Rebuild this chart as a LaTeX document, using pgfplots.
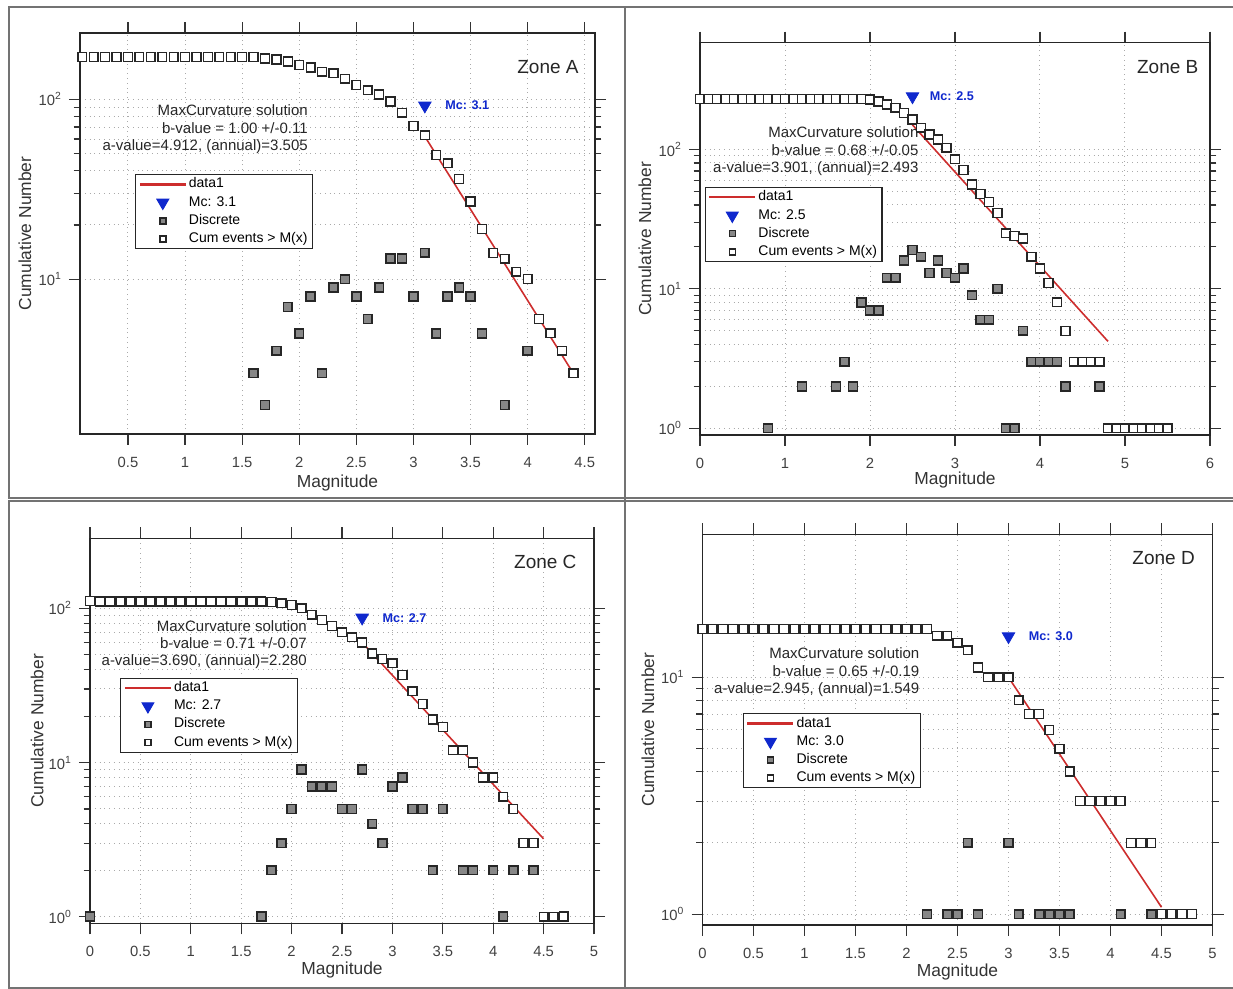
\documentclass[border=0pt]{standalone}
\usepackage{fontspec}
\setmainfont{Liberation Sans}
\usepackage{pgfplots}
\pgfplotsset{compat=1.18}
\definecolor{fitred}{RGB}{205,45,45}
\definecolor{mcblue}{RGB}{15,40,205}
\definecolor{discgray}{RGB}{135,135,135}
\definecolor{framegray}{RGB}{115,115,115}
\definecolor{gridgray}{RGB}{170,170,170}
\pgfplotsset{
 every axis/.append style={
  scale only axis,
  axis line style={line width=0.7pt, black!85},
  tick align=outside,
  major tick length=5.5pt, minor tick length=3.2pt,
  every tick/.append style={line width=0.6pt, black!80},
  grid=both,
  major grid style={dotted, gridgray, line width=0.5pt},
  minor grid style={dotted, gridgray, line width=0.5pt},
  tick label style={font=\fontsize{7.4}{8}\selectfont, text=black!75},
  xticklabel style={yshift=-2.5pt},
  label style={font=\fontsize{8.7}{10}\selectfont, text=black!80},
  legend cell align=left,
  legend style={draw=black!85, line width=0.6pt, font=\fontsize{7}{8}\selectfont,
    row sep=1pt, inner xsep=1.5pt, inner ysep=0.8pt,
    nodes={inner xsep=1pt, inner ysep=0.8pt, text height=5pt, text depth=1.5pt}},
 },
 /pgf/number format/assume math mode=true,
 legend image code/.code={\draw[mark repeat=2,mark phase=2,#1] plot coordinates {(0pt,0pt) (11.5pt,0pt) (23pt,0pt)};},
}
\tikzset{
 infotext/.style={anchor=east, inner sep=0pt, font=\fontsize{7.5}{9}\selectfont, text=black!85},
 zonetext/.style={anchor=east, inner sep=0pt, font=\fontsize{9.5}{11}\selectfont, text=black!85},
 mctext/.style={anchor=west, inner sep=0pt, font=\bfseries\fontsize{6.3}{7}\selectfont, text=mcblue},
}
\begin{document}
\begin{tikzpicture}
\useasboundingbox (0pt,0pt) rectangle (616.5pt,494.5pt);
% panel frames
\draw[framegray, line width=0.8pt] (616.5pt,491pt) -- (4.5pt,491pt) -- (4.5pt,245.5pt) -- (616.5pt,245.5pt);
\draw[framegray, line width=0.8pt] (616.5pt,244pt) -- (4.5pt,244pt) -- (4.5pt,0.5pt) -- (616.5pt,0.5pt);
\draw[framegray, line width=0.8pt] (312.5pt,491pt) -- (312.5pt,0.5pt);

% ---------------- Zone A ----------------
\begin{axis}[ymode=log, anchor=south west, at={(40pt,277.5pt)}, width=257.5pt, height=200.5pt,
  xmin=0.08, xmax=4.59, ymin=1.38, ymax=233,
  xtick={0.5,1,1.5,2,2.5,3,3.5,4,4.5},
  ytick={10,100}, yticklabels={10\textsuperscript{1},10\textsuperscript{2}},
  xlabel=Magnitude, ylabel=Cumulative Number,
  legend style={at={(0.107,0.648)}, anchor=north west},
  xlabel style={at={(axis description cs:0.5,-0.122)}, anchor=center},
  ylabel style={at={(axis description cs:-0.107,0.5)}, anchor=center}]
\addlegendimage{no markers, draw=fitred, color=fitred, line width=1.1pt} \addlegendentry{data1}
\addlegendimage{only marks, mark=triangle*, mark size=3.3pt, mark options={rotate=180, fill=mcblue, draw=mcblue}} \addlegendentry{Mc: 3.1}
\addlegendimage{only marks, mark=square*, mark size=1.5pt, mark options={fill=discgray, draw=black!85, line width=0.7pt}} \addlegendentry{Discrete}
\addlegendimage{only marks, mark=square*, mark size=1.5pt, mark options={fill=white, draw=black!85, line width=0.7pt}} \addlegendentry{Cum events > M(x)}
\addplot[only marks, mark=square*, mark size=2.2pt, mark options={fill=discgray, draw=black!85, line width=0.8pt}, forget plot] coordinates {(1.6,3)(1.7,2)(1.8,4)(1.9,7)(2.0,5)(2.1,8)(2.2,3)(2.3,9)(2.4,10)(2.5,8)(2.6,6)(2.7,9)(2.8,13)(2.9,13)(3.0,8)(3.1,14)(3.2,5)(3.3,8)(3.4,9)(3.5,8)(3.6,5)(3.8,2)(4.0,4)(4.4,3)};
\addplot[only marks, mark=square*, mark size=2.2pt, mark options={fill=white, draw=black!85, line width=0.7pt}, forget plot] coordinates {(0.1,171)(0.2,171)(0.3,171)(0.4,171)(0.5,171)(0.6,171)(0.7,171)(0.8,171)(0.9,171)(1.0,171)(1.1,171)(1.2,171)(1.3,171)(1.4,171)(1.5,171)(1.6,171)(1.7,168)(1.8,166)(1.9,162)(2.0,155)(2.1,150)(2.2,142)(2.3,139)(2.4,130)(2.5,120)(2.6,112)(2.7,106)(2.8,97)(2.9,84)(3.0,71)(3.1,63)(3.2,49)(3.3,44)(3.4,36)(3.5,27)(3.6,19)(3.7,14)(3.8,13)(3.9,11)(4.0,10)(4.1,6)(4.2,5)(4.3,4)(4.4,3)};
\addplot[no markers, draw=fitred, line width=0.8pt, forget plot] coordinates {(3.1,62)(4.4,3)};
\addplot[only marks, mark=triangle*, mark size=3.6pt, mark options={rotate=180, fill=mcblue, draw=mcblue}, forget plot] coordinates {(3.1,92)};
\node[mctext, xshift=10pt] at (axis cs:3.1,92) {Mc: 3.1};
\node[infotext] at (rel axis cs:0.443,0.808) {MaxCurvature solution};
\node[infotext] at (rel axis cs:0.443,0.763) {b-value = 1.00 +/-0.11};
\node[infotext] at (rel axis cs:0.443,0.716) {a-value=4.912, (annual)=3.505};
\node[zonetext] at (rel axis cs:0.969,0.915) {Zone A};
\end{axis}

% ---------------- Zone B ----------------
\begin{axis}[ymode=log, anchor=south west, at={(350pt,277pt)}, width=255pt, height=196.15pt,
  xmin=0, xmax=6, ymin=0.895, ymax=583,
  xtick={0,1,2,3,4,5,6},
  ytick={1,10,100}, yticklabels={10\textsuperscript{0},10\textsuperscript{1},10\textsuperscript{2}},
  xlabel=Magnitude, ylabel=Cumulative Number,
  legend style={at={(0.009,0.632)}, anchor=north west},
  xlabel style={at={(axis description cs:0.5,-0.116)}, anchor=center},
  ylabel style={at={(axis description cs:-0.108,0.5)}, anchor=center}]
\addlegendimage{no markers, draw=fitred, color=fitred, line width=1.1pt} \addlegendentry{data1}
\addlegendimage{only marks, mark=triangle*, mark size=3.3pt, mark options={rotate=180, fill=mcblue, draw=mcblue}} \addlegendentry{Mc: 2.5}
\addlegendimage{only marks, mark=square*, mark size=1.5pt, mark options={fill=discgray, draw=black!85, line width=0.7pt}} \addlegendentry{Discrete}
\addlegendimage{only marks, mark=square*, mark size=1.5pt, mark options={fill=white, draw=black!85, line width=0.7pt}} \addlegendentry{Cum events > M(x)}
\addplot[only marks, mark=square*, mark size=2.2pt, mark options={fill=discgray, draw=black!85, line width=0.8pt}, forget plot] coordinates {(0.8,1)(1.2,2)(1.6,2)(1.7,3)(1.8,2)(1.9,8)(2.0,7)(2.1,7)(2.2,12)(2.3,12)(2.4,16)(2.5,19)(2.6,17)(2.7,13)(2.8,16)(2.9,13)(3.0,12)(3.1,14)(3.2,9)(3.3,6)(3.4,6)(3.5,10)(3.6,1)(3.7,1)(3.8,5)(3.9,3)(4.0,3)(4.1,3)(4.2,3)(4.3,2)(4.7,2)(5.5,1)};
\addplot[only marks, mark=square*, mark size=2.2pt, mark options={fill=white, draw=black!85, line width=0.7pt}, forget plot] coordinates {(0.0,230)(0.1,230)(0.2,230)(0.3,230)(0.4,230)(0.5,230)(0.6,230)(0.7,230)(0.8,230)(0.9,230)(1.0,230)(1.1,230)(1.2,230)(1.3,230)(1.4,230)(1.5,230)(1.6,230)(1.7,230)(1.8,230)(1.9,230)(2.0,228)(2.1,221)(2.2,210)(2.3,199)(2.4,183)(2.5,164)(2.6,143)(2.7,128)(2.8,118)(2.9,103)(3.0,85)(3.1,71)(3.2,56)(3.3,48)(3.4,42)(3.5,35)(3.6,25)(3.7,24)(3.8,23)(3.9,17)(4.0,14)(4.1,11)(4.2,8)(4.3,5)(4.4,3)(4.5,3)(4.6,3)(4.7,3)(4.8,1)(4.9,1)(5.0,1)(5.1,1)(5.2,1)(5.3,1)(5.4,1)(5.5,1)};
\addplot[no markers, draw=fitred, line width=0.8pt, forget plot] coordinates {(2.5,150)(4.8,4.2)};
\addplot[only marks, mark=triangle*, mark size=3.6pt, mark options={rotate=180, fill=mcblue, draw=mcblue}, forget plot] coordinates {(2.5,240)};
\node[mctext, xshift=8.5pt] at (axis cs:2.5,240) {Mc: 2.5};
\node[infotext] at (rel axis cs:0.429,0.772) {MaxCurvature solution};
\node[infotext] at (rel axis cs:0.429,0.726) {b-value = 0.68 +/-0.05};
\node[infotext] at (rel axis cs:0.429,0.680) {a-value=3.901, (annual)=2.493};
\node[zonetext] at (rel axis cs:0.978,0.938) {Zone B};
\end{axis}

% ---------------- Zone C ----------------
\begin{axis}[ymode=log, anchor=south west, at={(45pt,32.85pt)}, width=252pt, height=192.5pt,
  xmin=0, xmax=5, ymin=0.906, ymax=285,
  xtick={0,0.5,1,1.5,2,2.5,3,3.5,4,4.5,5},
  ytick={1,10,100}, yticklabels={10\textsuperscript{0},10\textsuperscript{1},10\textsuperscript{2}},
  xlabel=Magnitude, ylabel=Cumulative Number,
  legend style={at={(0.06,0.638)}, anchor=north west},
  xlabel style={at={(axis description cs:0.5,-0.121)}, anchor=center},
  ylabel style={at={(axis description cs:-0.105,0.5)}, anchor=center}]
\addlegendimage{no markers, draw=fitred, color=fitred, line width=1.1pt} \addlegendentry{data1}
\addlegendimage{only marks, mark=triangle*, mark size=3.3pt, mark options={rotate=180, fill=mcblue, draw=mcblue}} \addlegendentry{Mc: 2.7}
\addlegendimage{only marks, mark=square*, mark size=1.5pt, mark options={fill=discgray, draw=black!85, line width=0.7pt}} \addlegendentry{Discrete}
\addlegendimage{only marks, mark=square*, mark size=1.5pt, mark options={fill=white, draw=black!85, line width=0.7pt}} \addlegendentry{Cum events > M(x)}
\addplot[only marks, mark=square*, mark size=2.2pt, mark options={fill=discgray, draw=black!85, line width=0.8pt}, forget plot] coordinates {(0.0,1)(1.7,1)(1.8,2)(1.9,3)(2.0,5)(2.1,9)(2.2,7)(2.3,7)(2.4,7)(2.5,5)(2.6,5)(2.7,9)(2.8,4)(2.9,3)(3.0,7)(3.1,8)(3.2,5)(3.3,5)(3.4,2)(3.5,5)(3.7,2)(3.8,2)(4.0,2)(4.1,1)(4.2,2)(4.4,2)(4.7,1)};
\addplot[only marks, mark=square*, mark size=2.2pt, mark options={fill=white, draw=black!85, line width=0.7pt}, forget plot] coordinates {(0.0,112)(0.1,111)(0.2,111)(0.3,111)(0.4,111)(0.5,111)(0.6,111)(0.7,111)(0.8,111)(0.9,111)(1.0,111)(1.1,111)(1.2,111)(1.3,111)(1.4,111)(1.5,111)(1.6,111)(1.7,111)(1.8,110)(1.9,108)(2.0,105)(2.1,100)(2.2,91)(2.3,84)(2.4,77)(2.5,70)(2.6,65)(2.7,60)(2.8,51)(2.9,47)(3.0,44)(3.1,37)(3.2,29)(3.3,24)(3.4,19)(3.5,17)(3.6,12)(3.7,12)(3.8,10)(3.9,8)(4.0,8)(4.1,6)(4.2,5)(4.3,3)(4.4,3)(4.5,1)(4.6,1)(4.7,1)};
\addplot[no markers, draw=fitred, line width=0.8pt, forget plot] coordinates {(2.7,60)(4.5,3.2)};
\addplot[only marks, mark=triangle*, mark size=3.6pt, mark options={rotate=180, fill=mcblue, draw=mcblue}, forget plot] coordinates {(2.7,87)};
\node[mctext, xshift=10pt] at (axis cs:2.7,87) {Mc: 2.7};
\node[infotext] at (rel axis cs:0.431,0.773) {MaxCurvature solution};
\node[infotext] at (rel axis cs:0.431,0.728) {b-value = 0.71 +/-0.07};
\node[infotext] at (rel axis cs:0.431,0.680) {a-value=3.690, (annual)=2.280};
\node[zonetext] at (rel axis cs:0.966,0.939) {Zone C};
\end{axis}

% ---------------- Zone D ----------------
\begin{axis}[ymode=log, anchor=south west, at={(351.25pt,32pt)}, width=255pt, height=195.35pt,
  xmin=0, xmax=5, ymin=0.9, ymax=40.2,
  xtick={0,0.5,1,1.5,2,2.5,3,3.5,4,4.5,5},
  ytick={1,10}, yticklabels={10\textsuperscript{0},10\textsuperscript{1}},
  xlabel=Magnitude, ylabel=Cumulative Number,
  legend style={at={(0.079,0.542)}, anchor=north west},
  xlabel style={at={(axis description cs:0.5,-0.121)}, anchor=center},
  ylabel style={at={(axis description cs:-0.107,0.5)}, anchor=center}]
\addlegendimage{no markers, draw=fitred, color=fitred, line width=1.1pt} \addlegendentry{data1}
\addlegendimage{only marks, mark=triangle*, mark size=3.3pt, mark options={rotate=180, fill=mcblue, draw=mcblue}} \addlegendentry{Mc: 3.0}
\addlegendimage{only marks, mark=square*, mark size=1.5pt, mark options={fill=discgray, draw=black!85, line width=0.7pt}} \addlegendentry{Discrete}
\addlegendimage{only marks, mark=square*, mark size=1.5pt, mark options={fill=white, draw=black!85, line width=0.7pt}} \addlegendentry{Cum events > M(x)}
\addplot[only marks, mark=square*, mark size=2.2pt, mark options={fill=discgray, draw=black!85, line width=0.8pt}, forget plot] coordinates {(2.2,1)(2.4,1)(2.5,1)(2.6,2)(2.7,1)(3.0,2)(3.1,1)(3.3,1)(3.4,1)(3.5,1)(3.6,1)(4.1,1)(4.4,1)(4.8,1)};
\addplot[only marks, mark=square*, mark size=2.2pt, mark options={fill=white, draw=black!85, line width=0.7pt}, forget plot] coordinates {(0.0,16)(0.1,16)(0.2,16)(0.3,16)(0.4,16)(0.5,16)(0.6,16)(0.7,16)(0.8,16)(0.9,16)(1.0,16)(1.1,16)(1.2,16)(1.3,16)(1.4,16)(1.5,16)(1.6,16)(1.7,16)(1.8,16)(1.9,16)(2.0,16)(2.1,16)(2.2,16)(2.3,15)(2.4,15)(2.5,14)(2.6,13)(2.7,11)(2.8,10)(2.9,10)(3.0,10)(3.1,8)(3.2,7)(3.3,7)(3.4,6)(3.5,5)(3.6,4)(3.7,3)(3.8,3)(3.9,3)(4.0,3)(4.1,3)(4.2,2)(4.3,2)(4.4,2)(4.5,1)(4.6,1)(4.7,1)(4.8,1)};
\addplot[no markers, draw=fitred, line width=0.8pt, forget plot] coordinates {(3.0,10)(4.5,1.07)};
\addplot[only marks, mark=triangle*, mark size=3.6pt, mark options={rotate=180, fill=mcblue, draw=mcblue}, forget plot] coordinates {(3.0,14.9)};
\node[mctext, xshift=10pt] at (axis cs:3.0,14.9) {Mc: 3.0};
\node[infotext] at (rel axis cs:0.426,0.695) {MaxCurvature solution};
\node[infotext] at (rel axis cs:0.426,0.649) {b-value = 0.65 +/-0.19};
\node[infotext] at (rel axis cs:0.426,0.603) {a-value=2.945, (annual)=1.549};
\node[zonetext] at (rel axis cs:0.966,0.939) {Zone D};
\end{axis}
\end{tikzpicture}
\end{document}
